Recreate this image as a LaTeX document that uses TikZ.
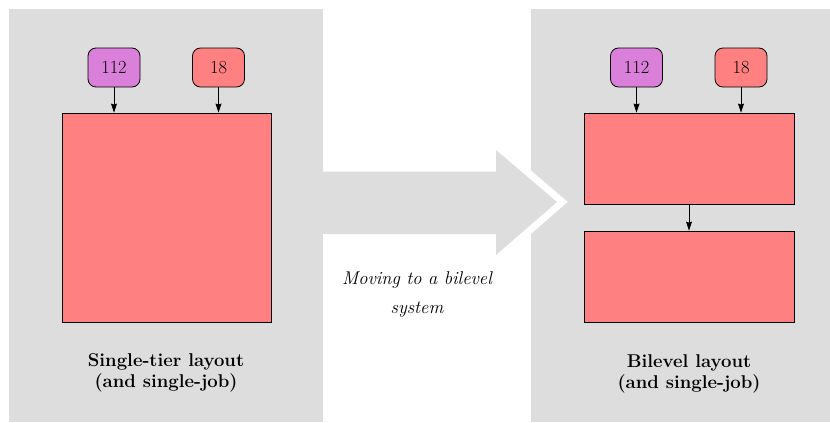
\documentclass[tikz,border=0pt]{standalone}
\usepackage{fontspec}
\usetikzlibrary{arrows.meta}
\definecolor{panelgray}{RGB}{221,221,221}
\definecolor{boxred}{RGB}{255,128,128}
\definecolor{boxpurple}{RGB}{218,128,218}
\begin{document}
\begin{tikzpicture}[x=1pt,y=-1pt,
  panel/.style={fill=panelgray},
  tag/.style={draw=black, line width=0.8pt, rounded corners=8pt, minimum width=52pt, minimum height=39pt, inner sep=0pt, font=\fontsize{18.5}{20}\selectfont},
  bigbox/.style={draw=black, line width=0.8pt, fill=boxred, inner sep=0pt},
  arr/.style={-{Stealth[length=9pt,width=6pt,inset=1pt]}, line width=0.8pt},
  caption/.style={align=center, font=\fontsize{18.5}{20.5}\selectfont\bfseries},
]
\useasboundingbox (0,0) rectangle (830,423);
% panels
\fill[panel] (9,9) rectangle (323,422);
\fill[panel] (531,9) rectangle (840,422);
% big transition arrow
\draw[white, line width=14pt, line join=miter, miter limit=10] (496,150) -- (557,202) -- (496,255);
\fill[panelgray] (323,171.5) -- (496,171.5) -- (496,150) -- (557,202) -- (496,255) -- (496,234) -- (323,234) -- cycle;
% left side
\node[tag, fill=boxpurple] (a112) at (114,67.5) {112};
\node[tag, fill=boxred] (a18) at (218.5,67.5) {18};
\node[bigbox, minimum width=209pt, minimum height=209pt] (big) at (166.5,217.5) {};
\draw[arr] (a112.south) -- (a112.south |- big.north);
\draw[arr] (a18.south) -- (a18.south |- big.north);
\node[caption] (lcap) at (166,373) {Single-tier layout\\(and single-job)};
% middle text
\node[align=center, font=\fontsize{18.5}{29}\selectfont\itshape] (mid) at (417,294) {Moving to a bilevel\\system};
% right side
\node[tag, fill=boxpurple] (b112) at (636.5,67.5) {112};
\node[tag, fill=boxred] (b18) at (741,67.5) {18};
\node[bigbox, minimum width=210pt, minimum height=91pt] (top) at (689,158.5) {};
\node[bigbox, minimum width=210pt, minimum height=91pt] (bot) at (689,276.5) {};
\draw[arr] (b112.south) -- (b112.south |- top.north);
\draw[arr] (b18.south) -- (b18.south |- top.north);
\draw[arr] (top.south) -- (bot.north);
\node[caption] (rcap) at (689,374) {Bilevel layout\\(and single-job)};
\end{tikzpicture}
\end{document}
